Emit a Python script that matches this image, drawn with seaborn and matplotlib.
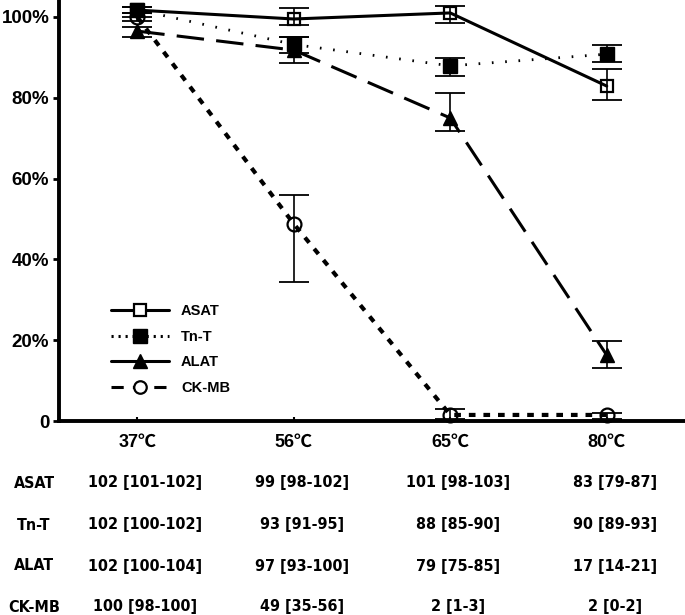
import pandas as pd
import matplotlib.pyplot as plt
import seaborn as sns
from matplotlib.lines import Line2D

# temperatures and enzyme activity (% of control)
temps = ['37', '56', '65', '80']
enzymes = ['ASAT', 'Tn-T', 'ALAT', 'CK-MB']

asat = [101.7, 99.5, 101.0, 82.9]
asat_lo = [101.0, 98.0, 98.5, 79.5]
asat_hi = [102.5, 102.2, 102.7, 87.1]

tnt = [101.8, 93.2, 87.9, 90.8]
tnt_lo = [100.0, 91.1, 85.4, 88.9]
tnt_hi = [102.5, 95.0, 89.9, 93.1]

alat = [96.5, 91.8, 75.0, 16.3]
alat_lo = [95.0, 88.6, 71.8, 13.1]
alat_hi = [97.5, 95.0, 81.2, 19.8]

ckmb = [100.0, 48.8, 1.5, 1.5]
ckmb_lo = [99.0, 34.4, 0.5, 0.5]
ckmb_hi = [101.0, 55.9, 3.0, 2.0]

# table under the chart
tab_asat = ['102 [101-102]', '99 [98-102]', '101 [98-103]', '83 [79-87]']
tab_tnt = ['102 [100-102]', '93 [91-95]', '88 [85-90]', '90 [89-93]']
tab_alat = ['102 [100-104]', '97 [93-100]', '79 [75-85]', '17 [14-21]']
tab_ckmb = ['100 [98-100]', '49 [35-56]', '2 [1-3]', '2 [0-2]']

sns.set_style('white')
plt.rcParams['font.family'] = ['Liberation Sans', 'DejaVu Sans']
plt.rcParams['text.color'] = 'black'
plt.rcParams['xtick.color'] = 'black'
plt.rcParams['ytick.color'] = 'black'
plt.rcParams['xtick.labelcolor'] = 'black'
plt.rcParams['ytick.labelcolor'] = 'black'

fig = plt.figure(figsize=(6.85, 6.15), dpi=100)
ax = fig.add_axes([59 / 685, 194 / 615, 626 / 685, 421 / 615])

x = list(range(len(temps)))
series = {
    'ASAT': (asat, asat_lo, asat_hi),
    'Tn-T': (tnt, tnt_lo, tnt_hi),
    'ALAT': (alat, alat_lo, alat_hi),
    'CK-MB': (ckmb, ckmb_lo, ckmb_hi),
}
styles = {
    'ASAT': dict(linestyle='-', lw=2.2, marker='s', ms=9, mfc='none', mew=1.6),
    'Tn-T': dict(linestyle=(0, (0.6, 4.2)), lw=2.0, marker='s', ms=10, mfc='k', mew=1),
    'ALAT': dict(linestyle=(0, (9, 4)), lw=2.2, marker='^', ms=10, mfc='k', mew=1),
    'CK-MB': dict(linestyle=(0, (1.6, 1.9)), lw=3.0, marker='o', ms=10, mfc='none', mew=1.6),
}

for name in enzymes:
    vals, lo, hi = series[name]
    df = pd.DataFrame({'x': x, 'y': vals})
    st = styles[name]
    sns.lineplot(data=df, x='x', y='y', ax=ax, color='k',
                 linestyle=st['linestyle'], linewidth=st['lw'],
                 marker=st['marker'], markersize=st['ms'],
                 markerfacecolor=st['mfc'], markeredgecolor='k',
                 markeredgewidth=st['mew'], clip_on=False, zorder=3)
    err = [[v - l for v, l in zip(vals, lo)], [h - v for v, h in zip(vals, hi)]]
    ax.errorbar(x, vals, yerr=err, fmt='none', ecolor='k', elinewidth=1.2,
                capsize=11, capthick=1.3, clip_on=False, zorder=4)

ax.set_xlim(-0.5, 3.5)
ax.set_ylim(0, 104.2)
ax.set_yticks([0, 20, 40, 60, 80, 100])
ax.set_yticklabels(['0', '20%', '40%', '60%', '80%', '100%'],
                   fontsize=13.5, fontweight='bold')
ax.set_xticks(x)
ax.set_xticklabels([t + '℃' for t in temps], fontsize=13, fontweight='bold',
                   family=['Liberation Sans', 'Noto Sans CJK JP'])
ax.set_xlabel('')
ax.set_ylabel('')
ax.tick_params(axis='y', length=4, width=2, pad=3, direction='out', left=True)
ax.tick_params(axis='x', length=3, width=1.5, pad=9, direction='in', bottom=True)
for side in ['top', 'right']:
    ax.spines[side].set_visible(False)
for side in ['left', 'bottom']:
    ax.spines[side].set_linewidth(2.8)
    ax.spines[side].set_color('k')

# legend
handles = [
    Line2D([], [], color='k', lw=2.2, marker='s', ms=9, mfc='white', mew=1.6),
    Line2D([], [], color='k', lw=2.2, linestyle=(0, (0.7, 1.6)), marker='s', ms=10, mfc='k'),
    Line2D([], [], color='k', lw=2.2, marker='^', ms=10, mfc='k'),
    Line2D([], [], color='k', lw=2.2, linestyle=(0, (4, 3)), marker='o', ms=9, mfc='white', mew=1.6),
]
ax.legend(handles, enzymes, loc='upper left', bbox_to_anchor=(98 / 685, 1 - 291 / 615),
          bbox_transform=fig.transFigure, frameon=False, handlelength=4,
          labelspacing=0.8, handletextpad=0.8, prop=dict(weight='bold', size=10.5))

# table below the axis
rows = [tab_asat, tab_tnt, tab_alat, tab_ckmb]
row_y = [483, 525, 566, 607]
for name, vals, yy in zip(enzymes, rows, row_y):
    fig.text(34 / 685, 1 - yy / 615, name, ha='center', va='center',
             fontsize=11.5, fontweight='bold', family='DejaVu Sans',
             fontstretch='condensed')
    for i, s in enumerate(vals):
        xf = ax.transData.transform((i + 0.05, 0))[0] / fig.bbox.width
        fig.text(xf, 1 - yy / 615, s, ha='center', va='center',
                 fontsize=11.5, fontweight='bold', family='DejaVu Sans',
                 fontstretch='condensed')

fig.savefig('out.png', dpi=100)
